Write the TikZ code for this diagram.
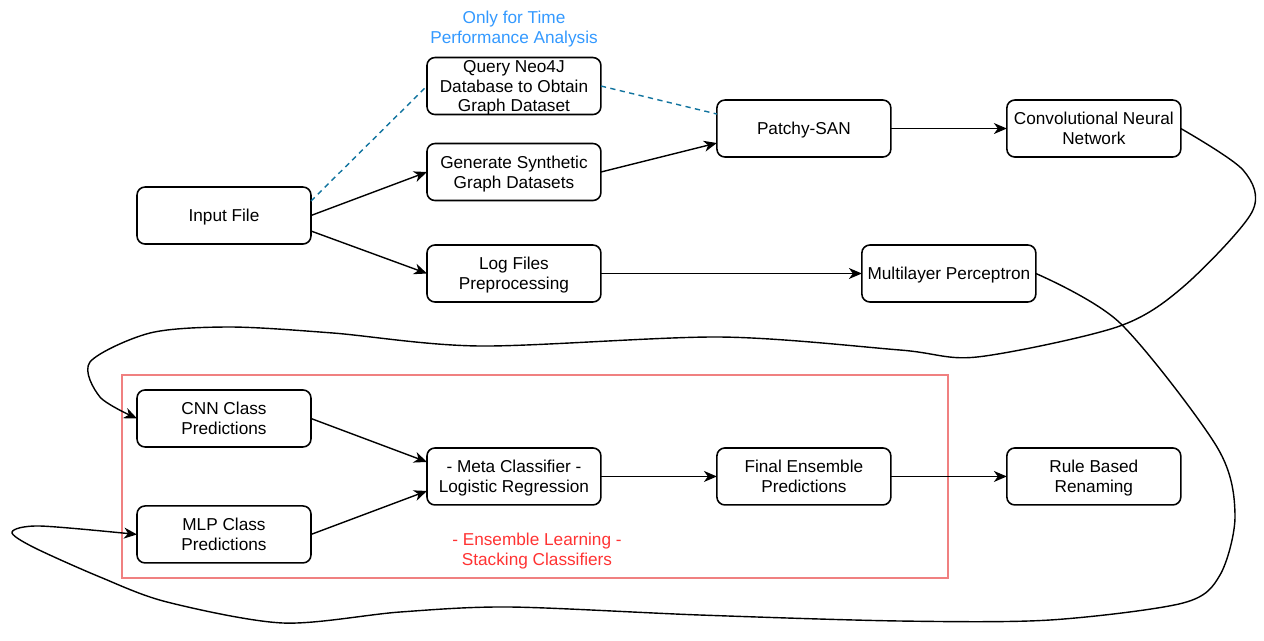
\documentclass[tikz,border=0pt]{standalone}
\usepackage{fontspec}
\setmainfont{Liberation Sans}
\usetikzlibrary{arrows.meta,positioning}
\definecolor{NoteColor}{RGB}{51,153,255}
\definecolor{DashColor}{RGB}{16,115,158}
\definecolor{EnsembleColor}{RGB}{255,51,51}
\definecolor{FrameColor}{RGB}{240,128,128}
\tikzset{
    box/.style={rectangle, draw, rounded corners=0.16cm, line width=0.9pt, minimum width=3.48cm, minimum height=1.14cm, inner sep=0pt, outer sep=0pt, align=center, text depth=-0.8pt, font=\fontsize{9.8}{11.3}\selectfont},
    note/.style={align=center, inner sep=0pt, font=\fontsize{9.8}{11.3}\selectfont},
    connection/.style={-{Stealth[length=2.6mm, width=2.2mm, inset=0.8mm]}, line width=0.8pt},
    optional/.style={dashed, dash pattern=on 3pt off 2.5pt, DashColor, line width=0.8pt},
    ensemble/.style={draw=FrameColor, line width=0.8pt}
}

\begin{document}
\begin{tikzpicture}[x=0.02cm, y=-0.02cm, node distance=0.58cm and 2.32cm]
\useasboundingbox (0,0) rectangle (1264,640);

% Input
\node (input) [box] at (224,215.5) {Input File};

% Datasets and preprocessing
\node (gen) [box, right=of input, yshift=0.87cm] {Generate Synthetic\\Graph Datasets};
\node (query) [box, above=of gen] {Query Neo4J\\Database to Obtain\\Graph Dataset};
\node (logs) [box, right=of input, yshift=-1.16cm] {Log Files\\Preprocessing};
\node (timenote) [note, text=NoteColor] at (514,29) {Only for Time\\Performance Analysis};

% Models
\node (patchy) [box, right=of gen, yshift=0.87cm] {Patchy-SAN};
\node (cnn) [box, right=of patchy] {Convolutional Neural\\Network};
\node (mlp) [box, right=5.22cm of logs] {Multilayer Perceptron};

% Ensemble
\node (cnnpred) [box, below=2.92cm of input] {CNN Class\\Predictions};
\node (mlppred) [box, below=1.18cm of cnnpred] {MLP Class\\Predictions};
\node (meta) [box, right=of cnnpred, yshift=-1.16cm] {- Meta Classifier -\\Logistic Regression};
\node (final) [box, right=of meta] {Final Ensemble\\Predictions};
\node (rule) [box, right=of final] {Rule Based\\Renaming};
\node (ensnote) [note, text=EnsembleColor] at (537,551) {- Ensemble Learning -\\Stacking Classifiers};
\draw [ensemble] (122,375) rectangle (948,578);

% Connections
\draw [optional] ([yshift=0.29cm]input.east) -- (query.west);
\draw [optional] (query.east) -- ([yshift=0.29cm]patchy.west);
\draw [connection] (input.east) -- (gen.west);
\draw [connection] ([yshift=-0.31cm]input.east) -- (logs.west);
\draw [connection] (gen.east) -- ([yshift=-0.29cm]patchy.west);
\draw [connection] (patchy) -- (cnn);
\draw [connection] (logs) -- (mlp);
\draw [connection] (cnnpred.east) -- ([yshift=0.29cm]meta.west);
\draw [connection] (mlppred.east) -- ([yshift=-0.29cm]meta.west);
\draw [connection] (meta) -- (final);
\draw [connection] (final) -- (rule);

% Model outputs
\draw [connection] plot [smooth, tension=0.5] coordinates {(cnn.east) (1243,170) (1252,212) (1183,287) (1117,327) (977,357) (900,350) (720,337) (480,346) (333,333) (230,327) (150,333) (90,362) (100,397) (cnnpred.west)};
\draw [connection] plot [smooth, tension=0.5] coordinates {(mlp.east) (1120,323) (1217,447) (1235,515) (1220,575) (1183,603) (1050,620) (900,621) (700,615) (510,607) (400,612) (283,623) (167,602) (100,577) (33,547) (12,532) (40,526) (mlppred.west)};

\end{tikzpicture}
\end{document}
